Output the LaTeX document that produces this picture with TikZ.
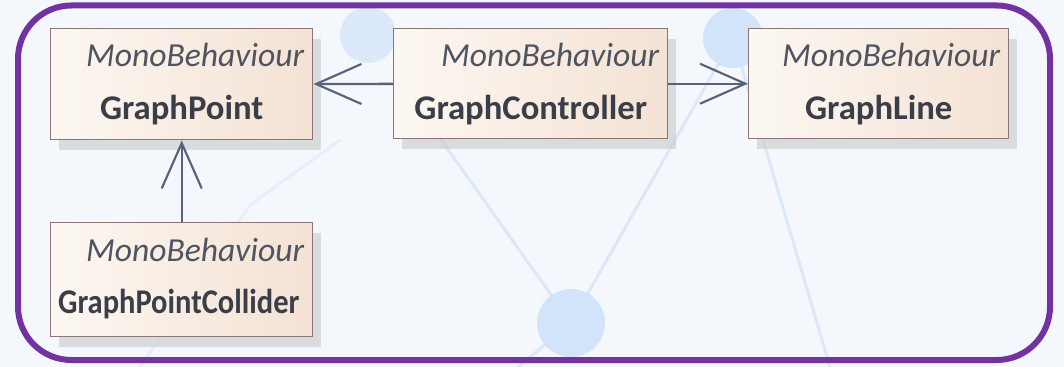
\documentclass[tikz,border=0pt]{standalone}
\usepackage{fontspec}
\setmainfont{Carlito}
\usetikzlibrary{arrows.meta,shadows,calc}

\definecolor{pagebg}{RGB}{244,247,251}
\definecolor{framec}{RGB}{114,50,160}
\definecolor{netc}{RGB}{218,232,248}
\definecolor{dotc}{RGB}{210,228,250}
\definecolor{boxl}{RGB}{252,247,242}
\definecolor{boxr}{RGB}{244,226,212}
\definecolor{boxedge}{RGB}{140,118,116}
\definecolor{stereoc}{RGB}{78,84,96}
\definecolor{namec}{RGB}{58,62,72}
\definecolor{arrowc}{RGB}{88,98,120}

\tikzset{
  classbox/.style={draw=boxedge, line width=1.1pt, left color=boxl, right color=boxr,
    inner sep=0pt, anchor=north west,
    drop shadow={shadow xshift=6pt, shadow yshift=-7.5pt, fill=black!20, opacity=0.65}},
  stereo/.style={anchor=base east, inner sep=0pt, text=stereoc,
    font=\fontsize{25.2}{29}\selectfont\itshape},
  cname/.style={anchor=base, inner sep=0pt, text=namec,
    font=\fontsize{26}{30}\selectfont\bfseries},
  assoc/.style={draw=arrowc, line width=1.8pt,
    -{Straight Barb[length=34pt, width=30pt, line width=1.6pt]}},
  netline/.style={draw=netc, line width=2.2pt},
  netdot/.style={fill=dotc}
}

\begin{document}
\begin{tikzpicture}[x=0.75pt, y=-0.75pt]
\useasboundingbox (0,0) rectangle (1064,367);
\fill[pagebg] (0,0) rectangle (1064,367);

% faint network pattern in the background
\draw[netline] (571,323) -- (733,38);
\draw[netline] (733,38) -- (830,367);
\draw[netline] (571,323) -- (420,110);
\draw[netline] (571,323) -- (518,367);
\draw[netline, opacity=0.5] (140,367) -- (250,205) -- (340,140);
\fill[netdot] (571,323) circle (34);
\fill[netdot] (733,38) circle (30);
\fill[netdot, opacity=0.7] (368,35) circle (28);

% outer frame
\draw[framec, line width=4.5pt, rounded corners=40pt] (18,5.5) rectangle (1050,360);

% classes
\node[classbox, minimum width=196.5pt, minimum height=83.25pt] (gp) at (50,28) {};
\node[classbox, minimum width=205.5pt, minimum height=82.5pt] (gc) at (393,28) {};
\node[classbox, minimum width=195pt, minimum height=82.5pt] (gl) at (748,28) {};
\node[classbox, minimum width=196.5pt, minimum height=85.5pt] (gpc) at (50,222) {};

\node[stereo] (gpS) at ($(gp.north east)+(-9,39)$) {MonoBehaviour};
\node[cname]  (gpN) at ($(gp.north)+(0,92)$) {GraphPoint};
\node[stereo] (gcS) at ($(gc.north east)+(-9,39)$) {MonoBehaviour};
\node[cname]  (gcN) at ($(gc.north)+(0,92)$) {GraphController};
\node[stereo] (glS) at ($(gl.north east)+(-9,39)$) {MonoBehaviour};
\node[cname]  (glN) at ($(gl.north)+(0,92)$) {GraphLine};
\node[stereo] (gpcS) at ($(gpc.north east)+(-9,40)$) {MonoBehaviour};
\node[cname]  (gpcN) at ($(gpc.north)+(-3,91)$) {\scalebox{0.88}[1]{GraphPointCollider}};

% associations
\draw[assoc] (gc) -- (gp);
\draw[assoc] (gc) -- (gl);
\draw[assoc] (gpc) -- (gp);
\end{tikzpicture}
\end{document}
